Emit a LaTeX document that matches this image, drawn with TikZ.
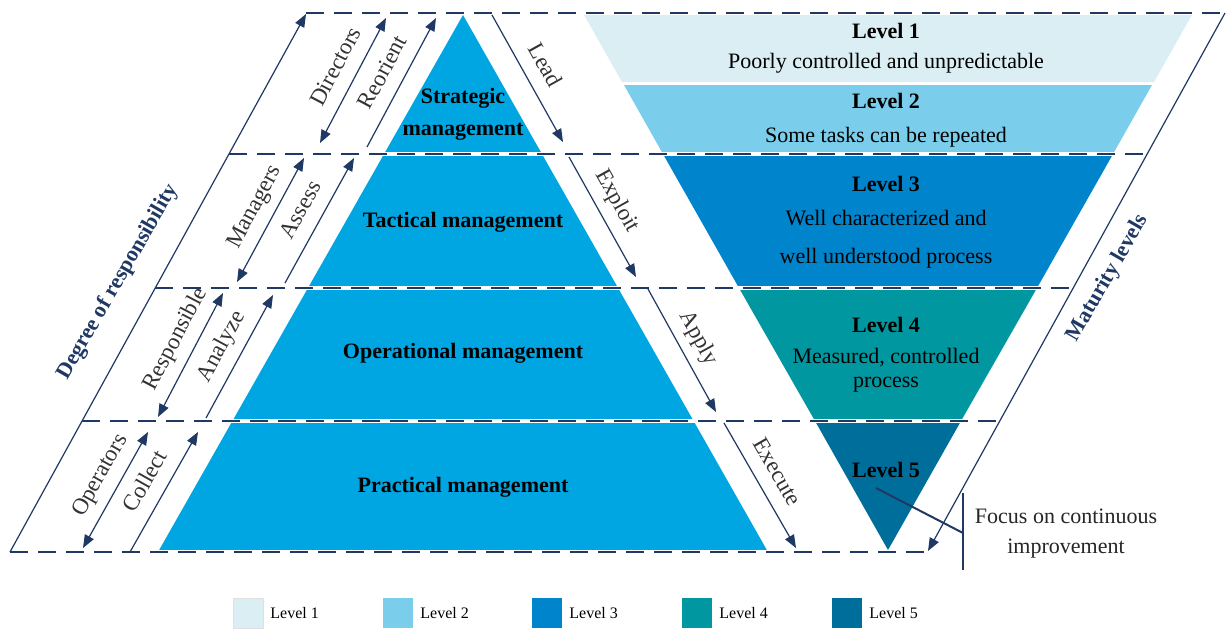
\documentclass[tikz,border=0pt]{standalone}
\usepackage{fontspec}
\setmainfont{Liberation Serif}
\usetikzlibrary{arrows.meta}
\definecolor{navy}{RGB}{31,56,100}
\definecolor{pyr}{RGB}{0,166,226}
\definecolor{lvA}{RGB}{218,238,243}
\definecolor{lvB}{RGB}{122,206,235}
\definecolor{lvC}{RGB}{0,133,204}
\definecolor{lvD}{RGB}{0,151,160}
\definecolor{lvE}{RGB}{0,110,155}
\begin{document}
\begin{tikzpicture}[x=1pt,y=-1pt,
  dashline/.style={navy, line width=2.6pt, dash pattern=on 18pt off 10pt},
  gapline/.style={white, line width=4pt},
  onehead/.style={navy, line width=1.2pt, -{Triangle[length=13pt,width=10pt]}},
  twohead/.style={navy, line width=1.2pt, {Triangle[length=13pt,width=10pt]}-{Triangle[length=13pt,width=10pt]}},
  sidelbl/.style={font=\fontsize{23}{26}\selectfont, text=black!80, inner sep=1pt, text height=15pt, text depth=5pt},
  ttl/.style={font=\bfseries\fontsize{22}{32}\selectfont, align=center, inner sep=0pt},
  txt/.style={font=\fontsize{22}{38}\selectfont, align=center, inner sep=0pt},
  axislbl/.style={font=\bfseries\fontsize{22}{26}\selectfont, text=navy, rotate=60, inner sep=0pt},
  legsq/.style={minimum size=30pt, inner sep=0pt},
  legtxt/.style={font=\fontsize{16}{18}\selectfont, anchor=west, inner sep=0pt}
]
\useasboundingbox (0,0) rectangle (1228,635);
\fill[white] (0,0) rectangle (1228,635);

% pyramid
\fill[pyr] (463,15) -- (768,552) -- (158,552) -- cycle;
% maturity levels (inverted pyramid)
\fill[lvA] (583,13) -- (1193,13) -- (1154,82) -- (622,82) -- cycle;
\fill[lvB] (624,85) -- (1152,85) -- (1113,154) -- (663,154) -- cycle;
\fill[lvC] (663,154) -- (1113,154) -- (1037,288) -- (739,288) -- cycle;
\fill[lvD] (739,288) -- (1037,288) -- (961,421) -- (815,421) -- cycle;
\fill[lvE] (815,421) -- (961,421) -- (888,550) -- cycle;

% frame corners
\coordinate (c0l) at (306,13);  \coordinate (c0r) at (1224,13);
\coordinate (c1l) at (229,154); \coordinate (c1r) at (1145,154);
\coordinate (c2l) at (155,288); \coordinate (c2r) at (1072,288);
\coordinate (c3l) at (82,421);  \coordinate (c3r) at (997,421);
\coordinate (c4l) at (10,552);  \coordinate (c4r) at (926,552);

% white gaps under level lines
\foreach \a/\b in {c0l/c0r,c1l/c1r,c2l/c2r,c3l/c3r,c4l/c4r}
  \draw[gapline] (\a) -- (\b);
% dashed level lines
\foreach \a/\b in {c0l/c0r,c1l/c1r,c2l/c2r,c3l/c3r,c4l/c4r}
  \draw[dashline] (\a) -- (\b);

% outer axes
\coordinate (axL1) at (10,552); \coordinate (axL2) at (306,14);
\draw[onehead] (axL1) -- (axL2);
\coordinate (axR1) at (1225,13); \coordinate (axR2) at (928,551);
\draw[onehead] (axR1) -- (axR2);
\node[axislbl] (deg) at (118,282) {Degree of responsibility};
\node[axislbl] (mat) at (1108,278) {Maturity levels};

% left arrows
\coordinate (d1a) at (320,143); \coordinate (d1b) at (386,18);
\draw[twohead] (d1a) -- node[pos=0.53, sloped, above=8pt, sidelbl] (ldir) {Directors} (d1b);
\coordinate (r1a) at (367,147); \coordinate (r1b) at (436,18);
\draw[onehead] (r1a) -- node[pos=0.5, sloped, above=8pt, sidelbl] (lreo) {Reorient} (r1b);

\coordinate (d2a) at (237,282); \coordinate (d2b) at (304,158);
\draw[twohead] (d2a) -- node[pos=0.53, sloped, above=8pt, sidelbl] (lman) {Managers} (d2b);
\coordinate (r2a) at (285,283); \coordinate (r2b) at (354,158);
\draw[onehead] (r2a) -- node[pos=0.5, sloped, above=8pt, sidelbl] (lass) {Assess} (r2b);

\coordinate (d3a) at (158,417); \coordinate (d3b) at (223,293);
\draw[twohead] (d3a) -- node[pos=0.55, sloped, above=8pt, sidelbl] (lres) {Responsible} (d3b);
\coordinate (r3a) at (206,418); \coordinate (r3b) at (273,295);
\draw[onehead] (r3a) -- node[pos=0.5, sloped, above=8pt, sidelbl] (lana) {Analyze} (r3b);

\coordinate (d4a) at (83,548); \coordinate (d4b) at (148,432);
\draw[twohead] (d4a) -- node[pos=0.54, sloped, above=8pt, sidelbl] (lope) {Operators} (d4b);
\coordinate (r4a) at (130,552); \coordinate (r4b) at (198,432);
\draw[onehead] (r4a) -- node[pos=0.5, sloped, above=8pt, sidelbl] (lcol) {Collect} (r4b);

% right arrows
\coordinate (e1a) at (492,15);  \coordinate (e1b) at (563,142);
\draw[onehead] (e1a) -- node[pos=0.48, sloped, above=8pt, sidelbl] (llea) {Lead} (e1b);
\coordinate (e2a) at (569,157); \coordinate (e2b) at (636,277);
\draw[onehead] (e2a) -- node[pos=0.45, sloped, above=8pt, sidelbl] (lexp) {Exploit} (e2b);
\coordinate (e3a) at (648,289); \coordinate (e3b) at (716,412);
\draw[onehead] (e3a) -- node[pos=0.48, sloped, above=8pt, sidelbl] (lapp) {Apply} (e3b);
\coordinate (e4a) at (724,423); \coordinate (e4b) at (796,548);
\draw[onehead] (e4a) -- node[pos=0.48, sloped, above=8pt, sidelbl] (lexe) {Execute} (e4b);

% pyramid texts
\node[ttl] (strat) at (463,114) {Strategic\\management};
\node[ttl] (tact) at (463,222) {Tactical management};
\node[ttl] (oper) at (463,353) {Operational management};
\node[ttl] (prac) at (463,487) {Practical management};

% level texts
\node[ttl] (lv1) at (886,31) {Level 1};
\node[txt] (lv1t) at (886,63) {Poorly controlled and unpredictable};
\node[ttl] (lv2) at (886,101) {Level 2};
\node[txt] (lv2t) at (886,137) {Some tasks can be repeated};
\node[ttl] (lv3) at (886,184) {Level 3};
\node[txt] (lv3t) at (886,239) {Well characterized and\\well understood process};
\node[ttl] (lv4) at (886,325) {Level 4};
\node[txt, font=\fontsize{22}{24}\selectfont] (lv4t) at (886,370) {Measured, controlled\\process};
\node[ttl] (lv5) at (886,470) {Level 5};

% annotation
\coordinate (fa) at (876,488); \coordinate (fb) at (963,533);
\coordinate (fc) at (963,493); \coordinate (fd) at (963,570);
\draw[navy, line width=2pt] (fa) -- (fb);
\draw[navy, line width=2pt] (fc) -- (fd);
\node[txt, font=\fontsize{22}{30}\selectfont, text=black!85] (focus) at (1066,534) {Focus on continuous\\improvement};

% legend
\node[legsq, fill=lvA, draw=black!12] (s1) at (248,613) {};
\node[legsq, fill=lvB] (s2) at (398,613) {};
\node[legsq, fill=lvC] (s3) at (547,613) {};
\node[legsq, fill=lvD] (s4) at (697,613) {};
\node[legsq, fill=lvE] (s5) at (847,613) {};
\node[legtxt] (t1) at ([xshift=7pt]s1.east) {Level 1};
\node[legtxt] (t2) at ([xshift=7pt]s2.east) {Level 2};
\node[legtxt] (t3) at ([xshift=7pt]s3.east) {Level 3};
\node[legtxt] (t4) at ([xshift=7pt]s4.east) {Level 4};
\node[legtxt] (t5) at ([xshift=7pt]s5.east) {Level 5};
\end{tikzpicture}
\end{document}
